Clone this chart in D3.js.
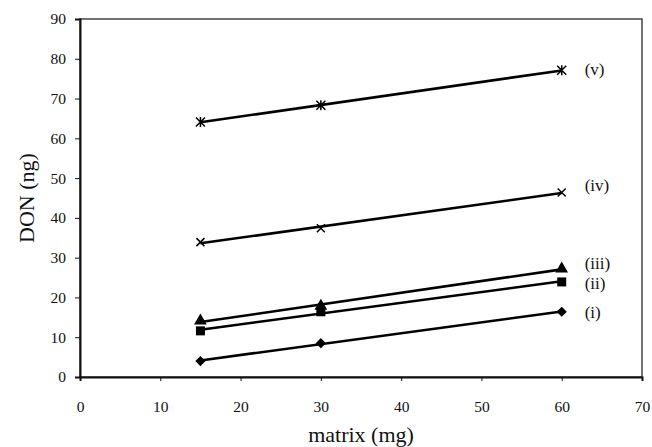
<!DOCTYPE html>
<html>
<head>
<meta charset="utf-8">
<script src="https://cdn.jsdelivr.net/npm/d3@7"></script>
<style>
  html, body { margin: 0; padding: 0; background: #fff; }
  svg { display: block; }
  text { font-family: "Liberation Serif", "Times New Roman", serif; fill: #111; }
</style>
</head>
<body>
<svg id="chart" width="652" height="447"></svg>
<script>
// ---- data ----
const matrixMg = [15, 30, 60];
const seriesNames = ["(i)", "(ii)", "(iii)", "(iv)", "(v)"];
const seriesI   = [4.0, 8.5, 16.4];
const seriesII  = [11.6, 16.4, 23.9];
const seriesIII = [14.1, 17.8, 27.2];
const seriesIV  = [33.9, 37.4, 46.4];
const seriesV   = [64.1, 68.3, 77.1];
const xTicks = [0, 10, 20, 30, 40, 50, 60, 70];
const yTicks = [0, 10, 20, 30, 40, 50, 60, 70, 80, 90];

const allSeries = [seriesI, seriesII, seriesIII, seriesIV, seriesV];
const markerTypes = ["diamond", "square", "triangle", "cross", "asterisk"];
const labelDy = [0, 1, -6, -7, -1];

// ---- layout ----
const svg = d3.select("#chart");
const x = d3.scaleLinear().domain([0, 70]).range([80, 642]);
const y = d3.scaleLinear().domain([0, 90]).range([377, 19]);

// frame (top/right)
svg.append("rect")
  .attr("x", x(0)).attr("y", y(90))
  .attr("width", x(70) - x(0)).attr("height", y(0) - y(90))
  .attr("fill", "none").attr("stroke", "#444").attr("stroke-width", 1.5);

// axes
const xAxis = d3.axisBottom(x).tickValues(xTicks).tickSize(4).tickPadding(20).tickFormat(d3.format("d"));
const gx = svg.append("g").attr("transform", `translate(0,${y(0)})`).call(xAxis);
gx.select(".domain").attr("stroke", "#111").attr("stroke-width", 2);
gx.selectAll(".tick line").attr("stroke", "#111");
gx.selectAll(".tick text").attr("font-size", 15.5).style("font-family", '"Liberation Serif", serif').attr("fill", "#111");

const yAxis = d3.axisLeft(y).tickValues(yTicks).tickSize(5).tickPadding(9).tickFormat(d3.format("d"));
const gy = svg.append("g").attr("transform", `translate(${x(0)},0)`).call(yAxis);
gy.select(".domain").attr("stroke", "#111").attr("stroke-width", 2);
gy.selectAll(".tick line").attr("stroke", "#111");
gy.selectAll(".tick text").attr("font-size", 15.5).style("font-family", '"Liberation Serif", serif').attr("fill", "#111");

// axis titles
svg.append("text")
  .attr("x", (x(0) + x(70)) / 2).attr("y", 442)
  .attr("text-anchor", "middle").attr("font-size", 22)
  .text("matrix (mg)");
svg.append("text")
  .attr("transform", `translate(34,${(y(0) + y(90)) / 2}) rotate(-90)`)
  .attr("text-anchor", "middle").attr("font-size", 22)
  .text("DON (ng)");

// least-squares trend line per series
function fit(xs, ys) {
  const mx = d3.mean(xs), my = d3.mean(ys);
  let sxy = 0, sxx = 0;
  xs.forEach((v, i) => { sxy += (v - mx) * (ys[i] - my); sxx += (v - mx) * (v - mx); });
  const b = sxy / sxx, a = my - b * mx;
  return v => a + b * v;
}

const line = d3.line().x(d => x(d[0])).y(d => y(d[1]));

function marker(g, type, cx, cy) {
  if (type === "diamond") {
    g.append("rect").attr("x", -3.6).attr("y", -3.6).attr("width", 7.2).attr("height", 7.2)
      .attr("transform", `translate(${cx},${cy}) rotate(45)`).attr("fill", "#000");
  } else if (type === "square") {
    g.append("rect").attr("x", cx - 4.5).attr("y", cy - 4.5).attr("width", 9).attr("height", 9).attr("fill", "#000");
  } else if (type === "triangle") {
    g.append("path").attr("d", d3.symbol(d3.symbolTriangle, 70)())
      .attr("transform", `translate(${cx},${cy})`).attr("fill", "#000");
  } else if (type === "cross") {
    g.append("path").attr("d", `M${cx-4},${cy-4}L${cx+4},${cy+4}M${cx-4},${cy+4}L${cx+4},${cy-4}`)
      .attr("stroke", "#000").attr("stroke-width", 1.5);
  } else if (type === "asterisk") {
    g.append("path").attr("d", `M${cx-4.5},${cy-4.5}L${cx+4.5},${cy+4.5}M${cx-4.5},${cy+4.5}L${cx+4.5},${cy-4.5}M${cx},${cy-5}L${cx},${cy+5}`)
      .attr("stroke", "#000").attr("stroke-width", 1.5);
  }
}

allSeries.forEach((vals, si) => {
  const g = svg.append("g");
  const f = fit(matrixMg, vals);
  const x0 = d3.min(matrixMg), x1 = d3.max(matrixMg);
  g.append("path").datum([[x0, f(x0)], [x1, f(x1)]])
    .attr("d", line).attr("fill", "none").attr("stroke", "#000").attr("stroke-width", 2.6);
  matrixMg.forEach((mv, i) => marker(g, markerTypes[si], x(mv), y(vals[i])));
  g.append("text")
    .attr("x", x(x1) + 23).attr("y", y(vals[vals.length - 1]) + labelDy[si])
    .attr("dy", "0.35em").attr("font-size", 17)
    .text(seriesNames[si]);
});
</script>
</body>
</html>
